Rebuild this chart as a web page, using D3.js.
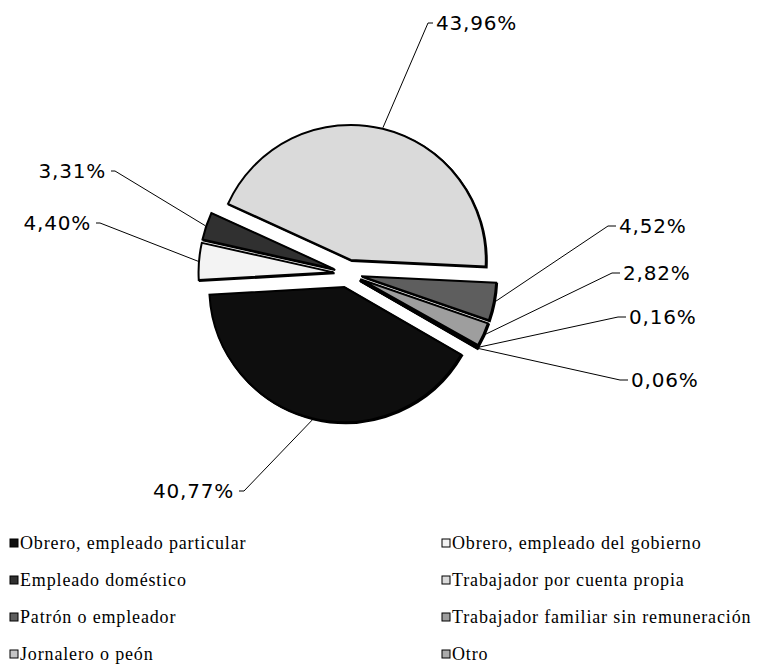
<!DOCTYPE html>
<html>
<head>
<meta charset="utf-8">
<script src="https://cdn.jsdelivr.net/npm/d3@7/dist/d3.min.js"></script>
<style>
  html, body { margin: 0; padding: 0; background: #fff; }
  svg { display: block; }
</style>
</head>
<body>
<svg id="chart" width="758" height="665"></svg>
<script>
// ---- data ----
const categories = [
  "Obrero, empleado particular",
  "Obrero, empleado del gobierno",
  "Empleado doméstico",
  "Trabajador por cuenta propia",
  "Patrón o empleador",
  "Trabajador familiar sin remuneración",
  "Jornalero o peón",
  "Otro"
];
const values = [40.77, 4.40, 3.31, 43.96, 4.52, 2.82, 0.16, 0.06];
const colors = ["#0e0e0e", "#f3f3f3", "#303030", "#dadada", "#5e5e5e", "#9e9e9e", "#c4c4c4", "#ababab"];

// ---- layout (label placement, not data) ----
const labelLayout = [
  { ex: 244, ey: 491, sx: 239, side: "left" },
  { ex: 100, ey: 223, sx: 96,  side: "left" },
  { ex: 115, ey: 171, sx: 111, side: "left" },
  { ex: 428, ey: 23,  sx: 433, side: "right" },
  { ex: 608, ey: 226, sx: 616, side: "right" },
  { ex: 612, ey: 273, sx: 620, side: "right" },
  { ex: 618, ey: 317, sx: 626, side: "right" },
  { ex: 620, ey: 380, sx: 628, side: "right" }
];

const svg = d3.select("#chart");
const cx = 347.5, cy = 273.5, r = 135, explode = 14;
const deg = Math.PI / 180;

const locale = d3.formatLocale({ decimal: ",", thousands: ".", grouping: [3], currency: ["", ""] });
const fmt = locale.format(".2f");

const pie = d3.pie().sort(null).value(d => d)
  .startAngle(120 * deg).endAngle(120 * deg + 2 * Math.PI);
const arcs = pie(values);
const arc = d3.arc().innerRadius(0).outerRadius(r);

const g = svg.append("g").attr("transform", `translate(${cx},${cy})`);

function offset(a) {
  const m = (a.startAngle + a.endAngle) / 2;
  return [Math.sin(m) * explode, -Math.cos(m) * explode];
}

// subtle shadow edge
g.selectAll("path.shadow")
  .data(arcs)
  .join("path")
  .attr("class", "shadow")
  .attr("transform", d => { const o = offset(d); return `translate(${o[0] + 1},${o[1] + 1})`; })
  .attr("d", arc)
  .attr("fill", "#000")
  .attr("stroke", "#000")
  .attr("stroke-width", 2);

// slices
g.selectAll("path.slice")
  .data(arcs)
  .join("path")
  .attr("class", "slice")
  .attr("transform", d => { const o = offset(d); return `translate(${o[0]},${o[1]})`; })
  .attr("d", arc)
  .attr("fill", (d, i) => colors[i])
  .attr("stroke", "#000")
  .attr("stroke-width", 2)
  .attr("stroke-linejoin", "miter");

// leader lines & labels
arcs.forEach((d, i) => {
  const o = offset(d);
  const m = (d.startAngle + d.endAngle) / 2;
  const px = cx + o[0] + Math.sin(m) * (r + 1);
  const py = cy + o[1] - Math.cos(m) * (r + 1);
  const L = labelLayout[i];
  svg.append("polyline")
    .attr("points", `${px},${py} ${L.ex},${L.ey} ${L.sx},${L.ey}`)
    .attr("fill", "none")
    .attr("stroke", "#000")
    .attr("stroke-width", 1);
  svg.append("text")
    .attr("x", L.side === "right" ? L.sx + 3 : L.sx - 5)
    .attr("y", L.ey)
    .attr("dy", "0.36em")
    .attr("text-anchor", L.side === "right" ? "start" : "end")
    .attr("font-family", "DejaVu Sans, Verdana, sans-serif")
    .attr("font-size", 20)
    .attr("letter-spacing", 0.8)
    .attr("fill", "#000")
    .text(fmt(values[i]) + "%");
});

// legend
const legX = [10, 442];
const legY = [543, 580, 617, 654];
const leg = svg.append("g");
categories.forEach((c, i) => {
  const col = i % 2, row = Math.floor(i / 2);
  const x = legX[col], y = legY[row];
  leg.append("rect")
    .attr("x", x).attr("y", y - 4).attr("width", 8).attr("height", 8)
    .attr("fill", colors[i]).attr("stroke", "#000").attr("stroke-width", 1);
  leg.append("text")
    .attr("x", x + 10).attr("y", y)
    .attr("dy", "0.35em")
    .attr("font-family", "Liberation Serif, Times New Roman, serif")
    .attr("font-size", 18)
    .attr("letter-spacing", 0.85)
    .attr("fill", "#000")
    .text(c);
});
</script>
</body>
</html>
